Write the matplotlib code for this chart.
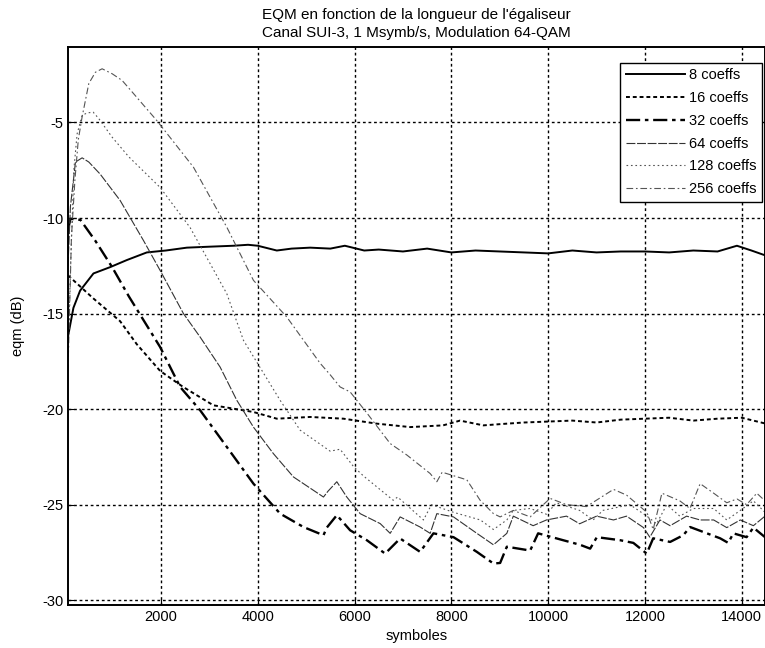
import matplotlib
matplotlib.use("Agg")
from matplotlib import pyplot as plt

plt.rcParams['font.family'] = ['Liberation Sans', 'DejaVu Sans']
plt.rcParams['axes.unicode_minus'] = False

# 8 coeffs
x_8 = [80, 192, 330, 606, 950, 1295, 1708, 2100, 2535, 3000, 3500, 3800, 4000, 4394,
       4700, 5083, 5500, 5800, 6200, 6500, 7000, 7500, 8000, 8500, 9000, 9500, 10000,
       10500, 11000, 11500, 12000, 12500, 13000, 13500, 13900, 14200, 14480]
y_8 = [-16.2, -14.7, -13.8, -12.9, -12.57, -12.2, -11.8, -11.7, -11.55, -11.5, -11.45, -11.4, -11.45, -11.7,
       -11.6, -11.55, -11.6, -11.45, -11.7, -11.65, -11.75, -11.6, -11.8, -11.7, -11.75, -11.8, -11.85,
       -11.7, -11.8, -11.75, -11.75, -11.8, -11.7, -11.75, -11.45, -11.7, -11.95]

# 16 coeffs
x_16 = [80, 600, 1157, 1500, 1983, 2459, 3083, 3910, 4394, 5083, 5770, 6460, 7150, 7830, 8180,
        8660, 9146, 9500, 10000, 10500, 11000, 11500, 12000, 12500, 13000, 13500, 14000, 14480]
y_16 = [-13.0, -14.2, -15.4, -16.6, -18.0, -18.84, -19.8, -20.15, -20.5, -20.41, -20.5, -20.76, -20.94, -20.85, -20.6,
        -20.85, -20.76, -20.7, -20.65, -20.6, -20.7, -20.55, -20.5, -20.45, -20.6, -20.5, -20.45, -20.75]

# 32 coeffs
x_32 = [80, 130, 337, 647, 992, 1337, 1983, 2397, 2810, 3361, 3911, 4463, 4945, 5358, 5427,
        5634, 5909, 6254, 6632, 6942, 7355, 7630, 8044, 8527, 8870, 9008, 9146, 9628, 9793,
        10310, 10660, 10868, 11006, 11488, 11760, 12036, 12170, 12520, 12790, 12934, 13553,
        13720, 13826, 14100, 14240, 14480]
y_32 = [-10.6, -10.04, -10.1, -11.2, -12.57, -14.1, -16.75, -18.84, -20.06, -21.98, -23.9, -25.47, -26.17, -26.6, -26.2,
        -25.55, -26.34, -26.86, -27.56, -26.77, -27.47, -26.5, -26.7, -27.47, -28.08, -28.05, -27.2, -27.4, -26.5,
        -26.86, -27.1, -27.3, -26.7, -26.86, -27.0, -27.56, -26.76, -26.95, -26.6, -26.17, -26.76,
        -27.0, -26.5, -26.7, -26.2, -26.7]

# 64 coeffs
x_64 = [80, 130, 234, 372, 510, 744, 1157, 1638, 1983, 2465, 2810, 3223, 3568, 3911, 4324,
        4738, 5358, 5450, 5634, 5840, 6116, 6530, 6736, 6942, 7355, 7562, 7700, 8044, 8527,
        8870, 9146, 9280, 9690, 9965, 10380, 10650, 11000, 11350, 11620, 11970, 12100, 12310,
        12520, 12860, 13140, 13420, 13690, 13970, 14240, 14480]
y_64 = [-12.5, -9.4, -7.07, -6.85, -7.07, -7.7, -9.08, -11.17, -12.74, -15.0, -16.23, -17.8, -19.54, -20.94, -22.33,
        -23.55, -24.6, -24.3, -23.8, -24.6, -25.47, -25.99, -26.5, -25.64, -26.17, -26.5, -25.47, -25.64, -26.5,
        -27.1, -26.5, -25.6, -26.1, -25.8, -25.6, -26.0, -25.6, -25.8, -25.6, -26.2, -26.7, -25.8,
        -26.1, -25.6, -25.8, -25.8, -26.2, -25.8, -26.1, -25.6]

# 128 coeffs
x_128 = [80, 140, 200, 268, 372, 475, 600, 717, 992, 1337, 1983, 2603, 3361, 3705, 4463,
         4876, 5496, 5702, 5977, 6185, 6800, 6890, 7424, 7590, 8044, 8600, 8870, 9146, 9280,
         9628, 9965, 10170, 10650, 10930, 11130, 11690, 12040, 12240, 12450, 12720, 13000,
         13420, 13690, 13970, 14240, 14480]
y_128 = [-17.0, -12.0, -7.5, -5.6, -4.63, -4.5, -4.46, -4.8, -5.77, -6.8, -8.4, -10.5, -13.96, -16.4, -19.54,
         -21.1, -22.2, -22.1, -23.0, -23.5, -24.77, -24.6, -25.8, -25.0, -25.4, -25.8, -26.3, -25.8, -25.3,
         -25.2, -25.5, -24.9, -25.3, -25.8, -25.3, -25.0, -25.6, -26.0, -25.0, -25.6, -25.2,
         -25.2, -25.8, -25.3, -24.8, -25.4]

# 256 coeffs
x_256 = [80, 151, 223, 293, 372, 510, 647, 785, 992, 1198, 1370, 1915, 2672, 3361, 3911,
         4600, 5289, 5496, 5702, 5909, 6254, 6736, 7080, 7562, 7700, 7810, 8320, 8595, 8870,
         9008, 9280, 9628, 10040, 10380, 10790, 11350, 11620, 11900, 12040, 12170, 12350,
         12720, 12930, 13140, 13420, 13690, 13900, 14100, 14310, 14480]
y_256 = [-18.0, -11.0, -8.0, -5.9, -4.7, -2.96, -2.37, -2.19, -2.45, -2.8, -3.3, -4.9, -7.34, -10.48, -13.26,
         -15.18, -17.6, -18.2, -18.84, -19.1, -20.2, -21.8, -22.4, -23.37, -23.8, -23.3, -23.7, -24.77, -25.47,
         -25.64, -25.3, -25.64, -24.67, -25.0, -25.1, -24.2, -24.5, -25.1, -25.4, -26.3, -24.4,
         -24.8, -25.2, -23.9, -24.4, -24.9, -24.7, -25.0, -24.4, -24.8]

fig = plt.figure(figsize=(7.65, 6.48), dpi=100)
ax = fig.add_axes([68 / 765, 1 - 605 / 648, 1 - 68 / 765, (605 - 47) / 648])

ax.plot(x_8, y_8, color='black', linewidth=1.4, linestyle='-', label='8 coeffs')
ax.plot(x_16, y_16, color='black', linewidth=1.4, linestyle=(0, (2, 1.5)), label='16 coeffs')
ax.plot(x_32, y_32, color='black', linewidth=1.7, linestyle=(0, (6, 2, 1.5, 2)), label='32 coeffs')
ax.plot(x_64, y_64, color='#333333', linewidth=0.8, linestyle=(0, (8, 1.5)), label='64 coeffs')
ax.plot(x_128, y_128, color='#555555', linewidth=0.8, linestyle=(0, (1.5, 2.5)), label='128 coeffs')
ax.plot(x_256, y_256, color='#555555', linewidth=0.8, linestyle=(0, (6, 2.5, 1.5, 2.5)), label='256 coeffs')

ax.set_xlim(80, 14480)
ax.set_ylim(-30.25, -1.05)
ax.set_xticks(range(2000, 14001, 2000))
ax.set_yticks(range(-30, -4, 5))
ax.tick_params(direction='in', labelsize=10.5, length=4)
ax.grid(True, color='black', linestyle=(0, (2, 2)), linewidth=1.0)
for s in ax.spines.values():
    s.set_linewidth(1.4)

ax.set_xlabel('symboles', fontsize=10.5)
ax.set_ylabel('eqm (dB)', fontsize=10.5, labelpad=12)

ax.set_title("EQM en fonction de la longueur de l'égaliseur\nCanal SUI-3, 1 Msymb/s, Modulation 64-QAM",
             fontsize=11, linespacing=1.35, pad=7)

leg = ax.legend(loc='upper right', bbox_to_anchor=(0.996, 0.972), fontsize=10.5,
                fancybox=False, framealpha=1, edgecolor='black', handlelength=4.0,
                borderaxespad=0, labelspacing=0.6, handletextpad=0.3)
leg.get_frame().set_linewidth(1.0)

plt.savefig('out.png', dpi=100)
